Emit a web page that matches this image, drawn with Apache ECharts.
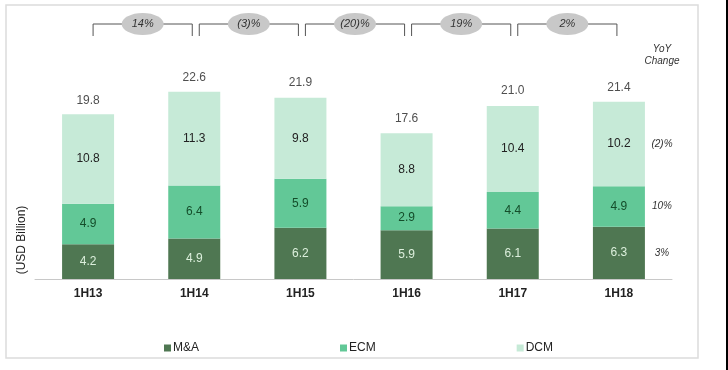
<!DOCTYPE html>
<html>
<head>
<meta charset="utf-8">
<script src="https://cdn.jsdelivr.net/npm/echarts@6/dist/echarts.min.js"></script>
<style>html,body{margin:0;padding:0;background:#fff}#c{width:728px;height:370px}</style>
</head>
<body>
<div id="c"></div>
<script>
const categories = ['1H13', '1H14', '1H15', '1H16', '1H17', '1H18'];
const mna = [4.2, 4.9, 6.2, 5.9, 6.1, 6.3];
const ecm = [4.9, 6.4, 5.9, 2.9, 4.4, 4.9];
const dcm = [10.8, 11.3, 9.8, 8.8, 10.4, 10.2];
const totals = [19.8, 22.6, 21.9, 17.6, 21.0, 21.4];
const yoyTotal = ['14%', '(3)%', '(20)%', '19%', '2%'];
const yoySegments = ['(2)%', '10%', '3%']; // DCM, ECM, M&A

const FONT = '"Liberation Sans", Arial, sans-serif';
const chart = echarts.init(document.getElementById('c'), null, {renderer: 'canvas'});

const lbl = (color) => ({show: true, position: 'inside', color: color, fontSize: 12, fontFamily: FONT,
  formatter: p => p.value.toFixed(1)});

chart.setOption({
  animation: false,
  backgroundColor: '#fff',
  grid: {left: 35, right: 56, top: 72, bottom: 91},
  legend: {
    data: ['M&A', 'ECM', 'DCM'], left: 159, top: 337, itemWidth: 7, itemHeight: 7, itemGap: 141,
    icon: 'rect', textStyle: {fontSize: 12, fontFamily: FONT, color: '#222', padding: [0, 0, 0, -3]}
  },
  xAxis: {
    type: 'category', data: categories,
    axisLine: {lineStyle: {color: '#c8c8c8', width: 1}},
    axisTick: {show: false},
    axisLabel: {fontSize: 12, fontWeight: 'bold', fontFamily: FONT, color: '#222', margin: 9}
  },
  yAxis: {type: 'value', min: 0, max: 25, show: false},
  series: [
    {name: 'M&A', type: 'bar', stack: 's', data: mna, barWidth: 52, itemStyle: {color: '#4f7752'}, label: lbl('#dcefdc')},
    {name: 'ECM', type: 'bar', stack: 's', data: ecm, itemStyle: {color: '#62c897'}, label: lbl('#144d2a')},
    {name: 'DCM', type: 'bar', stack: 's', data: dcm, itemStyle: {color: '#c6ead7'}, label: lbl('#222')},
    {name: 'Total', type: 'scatter', data: totals, symbolSize: 1, itemStyle: {color: 'rgba(0,0,0,0)'},
      label: {show: true, position: 'top', distance: 8, color: '#222', fontSize: 12, fontFamily: FONT,
        formatter: p => p.value.toFixed(1)}}
  ]
});

const cx = categories.map(c => chart.convertToPixel({xAxisIndex: 0}, c));
const py = v => chart.convertToPixel({yAxisIndex: 0}, v);
const g = [];
// frame
g.push({type: 'rect', shape: {x: 6, y: 5, width: 692, height: 353}, style: {fill: 'none', stroke: '#dcdcdc', lineWidth: 1.5}, silent: true});
g.push({type: 'rect', shape: {x: 726, y: 0, width: 2, height: 370}, style: {fill: '#000'}, silent: true});
// y axis name
g.push({type: 'text', x: 22, y: 240, rotation: Math.PI / 2,
  style: {text: '(USD Billion)', fontSize: 12, fontFamily: FONT, fill: '#222', align: 'center', verticalAlign: 'middle'}});
// brackets
const by = 24, bl = 12;
for (let i = 0; i < yoyTotal.length; i++) {
  const x1 = cx[i] + 5, x2 = cx[i + 1] - 2, m = (x1 + x2) / 2;
  g.push({type: 'polyline', shape: {points: [[x1, by + bl], [x1, by], [x2, by], [x2, by + bl]]},
    style: {stroke: '#555', lineWidth: 1, fill: 'none'}, silent: true});
  g.push({type: 'ellipse', shape: {cx: m, cy: by, rx: 21, ry: 11}, style: {fill: '#c8c8c8'}, silent: true});
  g.push({type: 'text', x: m, y: by, style: {text: yoyTotal[i], fontSize: 11, fontStyle: 'italic', fontFamily: FONT,
    fill: '#333', align: 'center', verticalAlign: 'middle'}});
}
// YoY change header
g.push({type: 'text', x: 662, y: 55, style: {text: 'YoY\nChange', fontSize: 10, fontStyle: 'italic', fontFamily: FONT,
  fill: '#333', align: 'center', verticalAlign: 'middle', lineHeight: 12}});
// segment yoy labels
const last = categories.length - 1;
const mids = [mna[last] + ecm[last] + dcm[last] / 2, mna[last] + ecm[last] / 2, mna[last] / 2];
for (let k = 0; k < 3; k++) {
  g.push({type: 'text', x: 662, y: py(mids[k]), style: {text: yoySegments[k], fontSize: 10, fontStyle: 'italic',
    fontFamily: FONT, fill: '#333', align: 'center', verticalAlign: 'middle'}});
}
chart.setOption({graphic: g});
</script>
</body>
</html>
